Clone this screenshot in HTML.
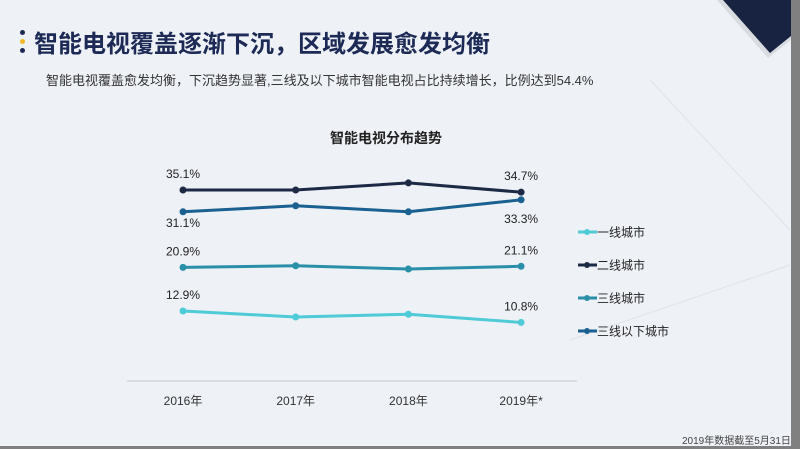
<!DOCTYPE html>
<html><head><meta charset="utf-8">
<style>
html,body{margin:0;padding:0;}
body{width:800px;height:449px;position:relative;overflow:hidden;background:#eef1f6;font-family:"Liberation Sans","Noto Sans CJK SC",sans-serif;}
.t{position:absolute;white-space:nowrap;}
</style></head><body>
<div style="position:absolute;left:791px;top:0;width:9px;height:449px;background:#808080"></div>
<div style="position:absolute;left:0;top:446px;width:800px;height:3px;background:#808080"></div>
<svg width="800" height="449" style="position:absolute;left:0;top:0">
<polygon points="717,0 791,0 791,40 768,58" fill="#d8dbe0"/>
<polygon points="723,0 791,0 791,36 770,53" fill="#172340"/>
<line x1="650" y1="80" x2="790" y2="230" stroke="#dfe2e8"/>
<line x1="570" y1="340" x2="790" y2="265" stroke="#dfe2e8"/>
</svg>
<div style="position:absolute;left:20px;top:30px">
<div style="width:5px;height:5px;border-radius:50%;background:#1c2a55;margin-bottom:4px"></div>
<div style="width:5px;height:5px;border-radius:50%;background:#f0b92a;margin-bottom:4px"></div>
<div style="width:5px;height:5px;border-radius:50%;background:#1c2a55"></div>
</div>
<div class="t" style="left:34px;top:24px;font-size:24px;font-weight:bold;color:#1c2a55">智能电视覆盖逐渐下沉，区域发展愈发均衡</div>
<div class="t" style="left:46px;top:70px;font-size:13px;color:#333">智能电视覆盖愈发均衡，下沉趋势显著,三线及以下城市智能电视占比持续增长，比例达到54.4%</div>
<div class="t" style="left:330px;top:128px;font-size:14px;font-weight:bold;color:#222">智能电视分布趋势</div>
<div class="t" style="left:682px;top:432px;font-size:10px;color:#444">2019年数据截至5月31日</div>
<svg id="chart" width="800" height="449" style="position:absolute;left:0;top:0"></svg>
<script>
const categories=["2016年","2017年","2018年","2019年*"];
const seriesNames=["一线城市","二线城市","三线城市","三线以下城市"];
const tier1=[12.9,11.8,12.3,10.8];
const tier2=[35.1,35.1,36.4,34.7];
const tier3=[20.9,21.2,20.6,21.1];
const tier4=[31.1,32.2,31.1,33.3];
const colors=["#4ecbd6","#1c2a45","#2a8fa8","#1a6090"];
const series=[tier1,tier2,tier3,tier4];
const NS="http://www.w3.org/2000/svg";
const svg=document.getElementById("chart");
function x(i){return 183+i*112.7;}
function y(v){return 190+(35.1-v)*5.45;}
function mk(tag,attrs){const e=document.createElementNS(NS,tag);for(const k in attrs)e.setAttribute(k,attrs[k]);svg.appendChild(e);return e;}
const ax=mk("line",{x1:127,y1:381,x2:577,y2:381,stroke:"#c8c8c8","stroke-width":1});


categories.forEach((c,i)=>{
  const t=mk("text",{x:x(i),y:405,"text-anchor":"middle","font-size":12,fill:"#333","font-family":"Liberation Sans, Noto Sans CJK SC, sans-serif"});
  t.textContent=c;
  
  
});
series.forEach((s,k)=>{
  const p=mk("polyline",{points:s.map((v,i)=>x(i)+","+y(v)).join(" "),fill:"none",stroke:colors[k],"stroke-width":3});
  
  
  s.forEach((v,i)=>{
    const c=mk("circle",{cx:x(i),cy:y(v),r:3.5,fill:colors[k]});
    
    
  });
  [0,3].forEach(i=>{
    const below=(k===3);
    const off=below?(i===0?15:23):-12;
    const t=mk("text",{x:x(i),y:y(s[i])+off,"text-anchor":"middle","font-size":12,fill:"#222","font-family":"Liberation Sans, sans-serif"});
    t.textContent=s[i].toFixed(1)+"%";
    
    
  });
  const ly=232+k*33;
  const ll=mk("line",{x1:578,y1:ly,x2:597,y2:ly,stroke:colors[k],"stroke-width":3});
  
  
  const lc=mk("circle",{cx:587,cy:ly,r:3,fill:colors[k]});
  
  
  const lt=mk("text",{x:597,y:ly+4.5,"font-size":12,fill:"#222","font-family":"Liberation Sans, Noto Sans CJK SC, sans-serif"});
  lt.textContent=seriesNames[k];
  
  
});
</script>
</body></html>
